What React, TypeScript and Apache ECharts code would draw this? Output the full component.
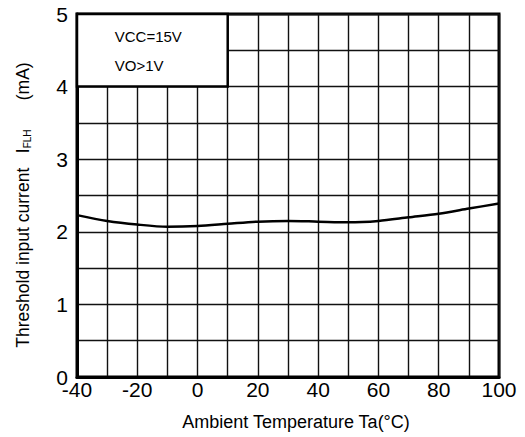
import React, { useEffect, useRef } from "react";
import * as echarts from "echarts";

const temps = [-40, -30, -20, -10, 0, 10, 20, 30, 40, 50, 60, 70, 80, 90, 100];
const iflh = [2.23, 2.15, 2.1, 2.07, 2.08, 2.11, 2.14, 2.15, 2.14, 2.13, 2.15, 2.2, 2.25, 2.32, 2.39];
const xTickLabels = ["-40", "-20", "0", "20", "40", "60", "80", "100"];
const yTickLabels = ["0", "1", "2", "3", "4", "5"];
const conditionLines = ["VCC=15V", "VO>1V"];
const conditionBox = { x0: -40, x1: 10, y0: 4, y1: 5 };

export default function App() {
  const ref = useRef<HTMLDivElement>(null);
  useEffect(() => {
    document.body.style.margin = "0";
    const chart = echarts.init(ref.current!, null, { renderer: "svg" });
    const font = "Liberation Sans, Arial, sans-serif";
    chart.setOption({
      animation: false,
      grid: {
        left: 77,
        right: 26,
        top: 14,
        bottom: 60,
        show: true,
        borderColor: "#000",
        borderWidth: 3,
        backgroundColor: "#fff",
      },
      xAxis: {
        type: "value",
        min: -40,
        max: 100,
        interval: 10,
        axisLine: { show: true, onZero: false, lineStyle: { color: "#000", width: 3 } },
        axisTick: { show: false },
        splitLine: { show: true, lineStyle: { color: "#111", width: 1.4 } },
        axisLabel: {
          color: "#000",
          fontFamily: font,
          fontSize: 21,
          margin: 2,
          formatter: (v: number) => (xTickLabels.includes(String(v)) ? String(v) : ""),
        },
        name: "Ambient Temperature Ta(°C)",
        nameLocation: "middle",
        nameGap: 36,
        nameTextStyle: { color: "#000", fontFamily: font, fontSize: 18, padding: [0, 0, 0, 16] },
      },
      yAxis: {
        type: "value",
        min: 0,
        max: 5,
        interval: 0.5,
        axisLine: { show: true, onZero: false, lineStyle: { color: "#000", width: 3 } },
        axisTick: { show: false },
        splitLine: { show: true, lineStyle: { color: "#111", width: 1.4 } },
        axisLabel: {
          color: "#000",
          fontFamily: font,
          fontSize: 21,
          margin: 9,
          formatter: (v: number) => (yTickLabels.includes(String(v)) ? String(v) : ""),
        },
      },
      graphic: [
        {
          type: "text",
          x: 22,
          y: 205,
          rotation: Math.PI / 2,
          style: {
            text: "{t|Threshold input current   I}{s|FLH}{t|      (mA)}",
            align: "center",
            verticalAlign: "middle",
            fill: "#000",
            rich: {
              t: { fontSize: 17.5, fontFamily: font, fill: "#000", verticalAlign: "bottom", lineHeight: 20 },
              s: { fontSize: 10, fontFamily: font, fill: "#000", verticalAlign: "bottom", lineHeight: 14 },
            },
          },
        },
      ],
      series: [
        {
          type: "line",
          data: temps.map((t, i) => [t, iflh[i]]),
          smooth: 0.3,
          showSymbol: false,
          lineStyle: { color: "#000", width: 2.5 },
          markArea: {
            silent: true,
            itemStyle: { color: "#fff", borderColor: "#000", borderWidth: 2.5 },
            label: {
              show: true,
              position: [39, 9],
              formatter: conditionLines.map((l) => `{a|${l}}`).join("\n"),
              rich: { a: { fontSize: 15, fontFamily: font, color: "#000", lineHeight: 29 } },
            },
            data: [[{ coord: [conditionBox.x0, conditionBox.y1] }, { coord: [conditionBox.x1, conditionBox.y0] }]],
          },
        },
      ],
    });
    return () => chart.dispose();
  }, []);
  return <div ref={ref} style={{ width: 525, height: 437 }} />;
}
